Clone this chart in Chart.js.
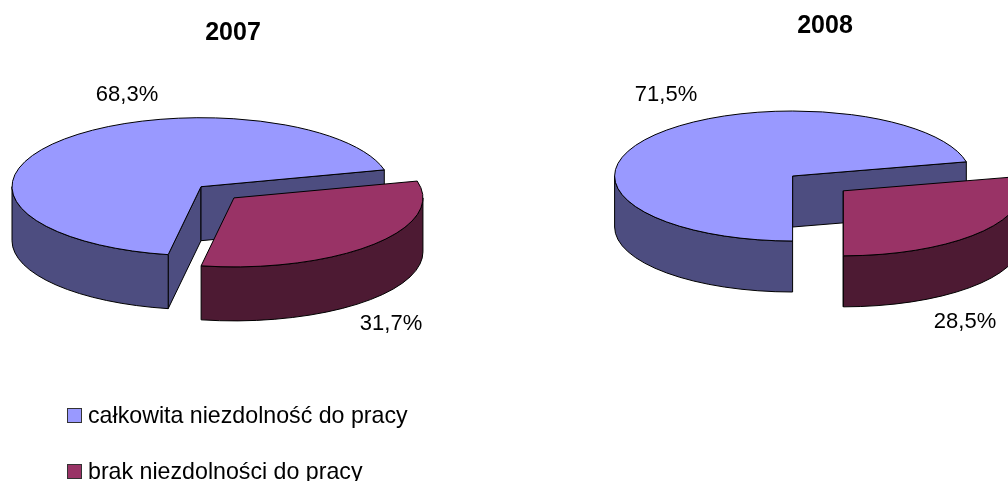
<!DOCTYPE html>
<html lang="pl">
<head>
<meta charset="utf-8">
<title>Niezdolność do pracy 2007–2008</title>
<script src="https://cdn.jsdelivr.net/npm/chart.js@4"></script>
<style>
  html, body { margin: 0; background: #fff; }
  body { position: relative; width: 1008px; height: 481px; overflow: hidden; font-family: "Liberation Sans", Arial, sans-serif; color: #000; }
  canvas { position: absolute; top: 0; }
  #pie2007 { left: 0; }
  #pie2008 { left: 600px; }
  .legend-item { position: absolute; left: 67px; height: 24px; display: flex; align-items: center; font-size: 23.2px; line-height: 24px; white-space: nowrap; }
  .legend-box { width: 13px; height: 13px; border: 1px solid #333; margin-right: 6px; }
</style>
</head>
<body>
<canvas id="pie2007" width="466" height="481"></canvas>
<canvas id="pie2008" width="450" height="481"></canvas>
<div id="legend"></div>
<script>
/* ── Data ── */
const categories = ['całkowita niezdolność do pracy', 'brak niezdolności do pracy'];
const values2007 = [68.3, 31.7];
const values2008 = [71.5, 28.5];

/* ── Styles ── */
const topColors = ['#9999FF', '#993366'];
const sideColors = ['#4D4D80', '#4D1A33'];
const FONT = '"Liberation Sans", Arial, sans-serif';

/* ── Tilted pie: walls and squashed top faces, slices pulled out along their bisector ── */
const tiltedPie = {
  id: 'tiltedPie',
  beforeDatasetDraw(chart, args, opts) {
    const ctx = chart.ctx;
    const k = opts.ry / opts.rx;
    args.meta.data.forEach((arc, i) => {
      const { startAngle: a0, endAngle: a1, outerRadius: r } = arc.getProps(['startAngle', 'endAngle', 'outerRadius']);
      const mid = (a0 + a1) / 2;
      const x = opts.cx + Math.cos(mid) * opts.explode[i];
      const y = opts.cy + Math.sin(mid) * opts.explode[i] * k;

      ctx.save();
      ctx.fillStyle = sideColors[i];
      ctx.strokeStyle = '#000';
      ctx.lineWidth = 1;
      ctx.lineJoin = 'round';
      drawCutWalls(ctx, x, y, r, k, opts.depth, a0, a1);
      drawRimWalls(ctx, x, y, r, k, opts.depth, a0, a1);
      ctx.restore();

      // the element itself paints the top, in a squashed coordinate system
      ctx.save();
      ctx.translate(x, y);
      ctx.scale(1, k);
      ctx.translate(-arc.x, -arc.y);
      arc.draw(ctx, chart.chartArea);
      ctx.restore();

      ctx.save();
      ctx.strokeStyle = '#000';
      ctx.lineWidth = 1;
      ctx.beginPath();
      ctx.moveTo(x, y);
      ctx.ellipse(x, y, r, r * k, 0, a0, a1);
      ctx.closePath();
      ctx.stroke();
      ctx.restore();
    });
    return false;
  },
  afterDraw(chart, args, opts) {
    const ctx = chart.ctx;
    const values = chart.data.datasets[0].data;
    ctx.save();
    ctx.fillStyle = '#000';
    ctx.font = '22px ' + FONT;
    ctx.textAlign = 'center';
    ctx.textBaseline = 'middle';
    values.forEach((v, i) => {
      ctx.fillText(v.toFixed(1).replace('.', ',') + '%', opts.labels[i][0], opts.labels[i][1]);
    });
    ctx.restore();
  }
};

// flat walls along the cut edges, only those facing the viewer
function drawCutWalls(ctx, x, y, r, k, depth, a0, a1) {
  [[a0, Math.sin(a0 - Math.PI / 2)], [a1, Math.sin(a1 + Math.PI / 2)]].forEach(([a, facing]) => {
    if (facing <= 0) return;
    const ex = x + Math.cos(a) * r;
    const ey = y + Math.sin(a) * r * k;
    ctx.beginPath();
    ctx.moveTo(x, y);
    ctx.lineTo(ex, ey);
    ctx.lineTo(ex, ey + depth);
    ctx.lineTo(x, y + depth);
    ctx.closePath();
    ctx.fill();
    ctx.stroke();
  });
}

// curved outer wall, limited to the near half of the rim
function drawRimWalls(ctx, x, y, r, k, depth, a0, a1) {
  const TAU = Math.PI * 2;
  [[0, Math.PI], [TAU, TAU + Math.PI], [-TAU, -Math.PI]].forEach(([lo, hi]) => {
    const from = Math.max(a0, lo);
    const to = Math.min(a1, hi);
    if (to <= from) return;
    ctx.beginPath();
    ctx.ellipse(x, y, r, r * k, 0, from, to);
    ctx.ellipse(x, y + depth, r, r * k, 0, to, from, true);
    ctx.closePath();
    ctx.fill();
    ctx.stroke();
  });
}

/* ── Charts ── */
function initPie(id, year, values, rotation, titleTop, geometry) {
  new Chart(document.getElementById(id), {
    type: 'pie',
    data: {
      labels: categories,
      datasets: [{
        data: values,
        backgroundColor: topColors,
        borderWidth: 0,
        clip: false
      }]
    },
    options: {
      responsive: false,
      animation: false,
      rotation: rotation,
      radius: geometry.rx,
      events: [],
      plugins: {
        legend: { display: false },
        tooltip: { enabled: false },
        title: {
          display: true,
          text: year,
          color: '#000',
          font: { family: FONT, size: 25, weight: 'bold' },
          padding: { top: titleTop, bottom: 0 }
        },
        tiltedPie: geometry
      }
    },
    plugins: [tiltedPie]
  });
}

/* ── Legend ── */
function initLegend() {
  const tops = [403, 459];
  const legend = document.getElementById('legend');
  categories.forEach((name, i) => {
    const item = document.createElement('div');
    item.className = 'legend-item';
    item.style.top = tops[i] + 'px';
    const box = document.createElement('span');
    box.className = 'legend-box';
    box.style.background = topColors[i];
    item.append(box, name);
    legend.append(item);
  });
}

initPie('pie2007', '2007', values2007, 190, 18, {
  cx: 201, cy: 186.7, rx: 189, ry: 69, depth: 54, explode: [0, 45],
  labels: [[127, 95], [391, 324]]
});
initPie('pie2008', '2008', values2008, 180, 11, {
  cx: 192.6, cy: 176, rx: 178, ry: 65, depth: 51, explode: [0, 65],
  labels: [[66, 95], [365, 322]]
});
initLegend();
</script>
</body>
</html>
